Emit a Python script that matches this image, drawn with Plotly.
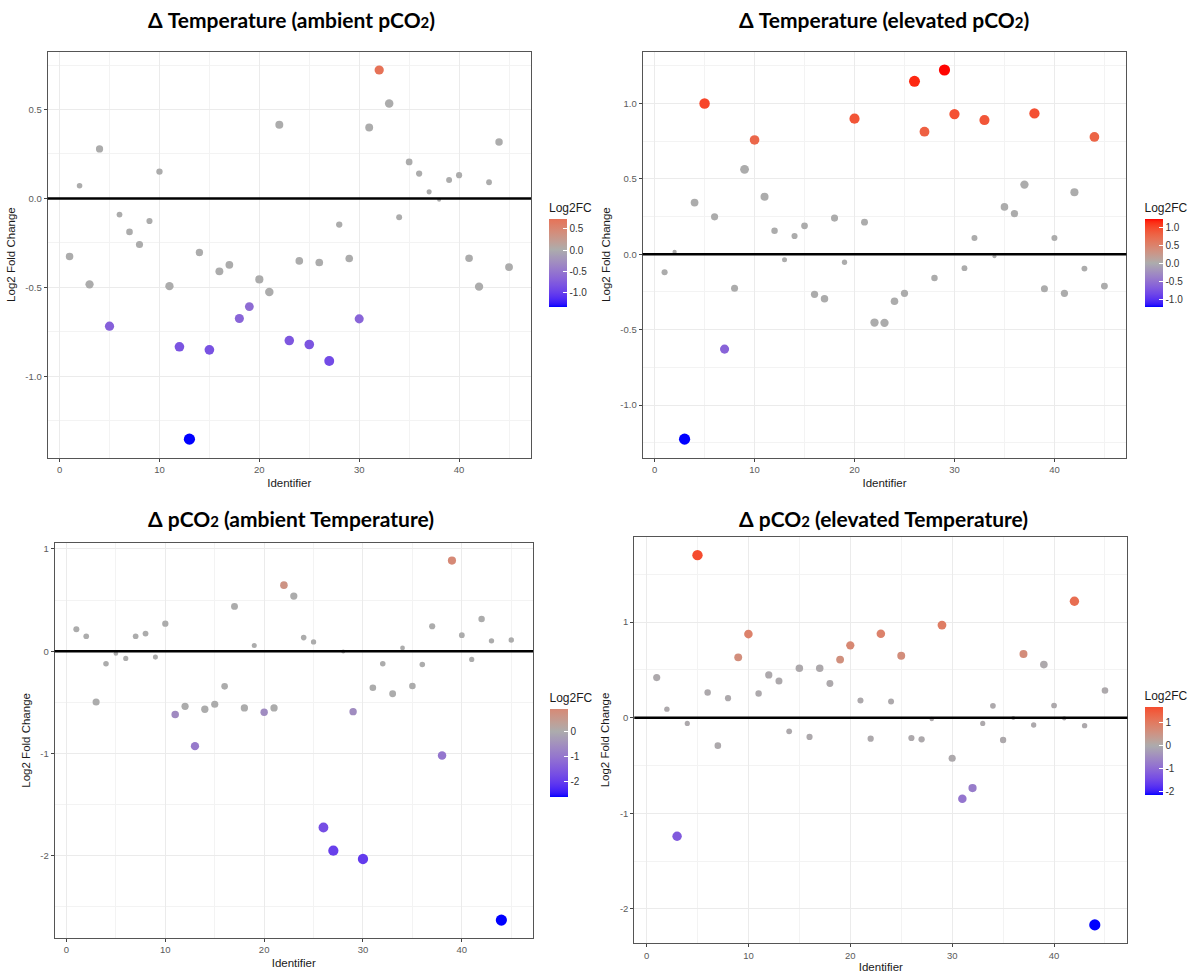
import math
import plotly.graph_objects as go

identifiers = list(range(1, 46))

# Δ Temperature (ambient pCO2)
temp_ambient_lfc = [-0.326, 0.071, -0.483, 0.278, -0.718, -0.091, -0.188, -0.259, -0.127, 0.151,
                    -0.493, -0.834, -1.353, -0.304, -0.851, -0.410, -0.373, -0.675, -0.608, -0.455,
                    -0.526, 0.414, -0.799, -0.351, -0.821, -0.360, -0.914, -0.147, -0.338, -0.677,
                    0.399, 0.722, 0.534, -0.106, 0.205, 0.140, 0.037, -0.007, 0.104, 0.131,
                    -0.336, -0.496, 0.091, 0.317, -0.386]
temp_ambient_sig = [5, 12, 13, 15, 18, 19, 23, 25, 27, 30, 32]

# Δ Temperature (elevated pCO2)
temp_elevated_lfc = [-0.119, 0.015, -1.226, 0.343, 1.000, 0.248, -0.629, -0.226, 0.563, 0.758,
                     0.382, 0.156, -0.037, 0.121, 0.189, -0.266, -0.295, 0.240, -0.053, 0.899,
                     0.213, -0.453, -0.455, -0.312, -0.259, 1.147, 0.813, -0.158, 1.222, 0.930,
                     -0.092, 0.108, 0.890, -0.013, 0.314, 0.270, 0.462, 0.934, -0.229, 0.108,
                     -0.259, 0.411, -0.095, 0.778, -0.211]
temp_elevated_sig = [3, 5, 7, 10, 20, 26, 27, 29, 30, 33, 38, 44]

# Δ pCO2 (ambient Temperature)
pco2_ambient_lfc = [0.214, 0.146, -0.497, -0.123, -0.023, -0.071, 0.146, 0.172, -0.058, 0.269,
                    -0.620, -0.539, -0.929, -0.568, -0.519, -0.344, 0.438, -0.555, 0.055, -0.597,
                    -0.555, 0.646, 0.539, 0.133, 0.091, -1.724, -1.951, -0.003, -0.591, -2.032,
                    -0.357, -0.123, -0.416, 0.032, -0.341, -0.130, 0.244, -1.019, 0.886, 0.156,
                    -0.081, 0.315, 0.101, -2.630, 0.110]
pco2_ambient_sig = [11, 13, 20, 22, 26, 27, 29, 30, 38, 39, 44]

# Δ pCO2 (elevated Temperature)
pco2_elevated_lfc = [0.420, 0.090, -1.240, -0.059, 1.701, 0.264, -0.292, 0.205, 0.632, 0.875,
                     0.253, 0.448, 0.385, -0.142, 0.517, -0.201, 0.517, 0.358, 0.608, 0.757,
                     0.181, -0.219, 0.878, 0.170, 0.649, -0.212, -0.226, -0.014, 0.969, -0.424,
                     -0.847, -0.736, -0.059, 0.125, -0.233, -0.003, 0.667, -0.076, 0.556, 0.128,
                     -0.007, 1.219, -0.083, -2.167, 0.285]
pco2_elevated_sig = [3, 5, 9, 10, 19, 20, 23, 25, 29, 31, 32, 37, 42, 44]

titles = ["Δ Temperature (ambient pCO<span style='font-size:15px'>2</span>)",
          "Δ Temperature (elevated pCO<span style='font-size:15px'>2</span>)",
          "Δ pCO<span style='font-size:15px'>2</span> (ambient Temperature)",
          "Δ pCO<span style='font-size:15px'>2</span> (elevated Temperature)"]

x_ticks = [0, 10, 20, 30, 40]
x_ticktext = ["0", "10", "20", "30", "40"]
x_minor = [5, 15, 25, 35, 45]

y_ticks = [[-1.0, -0.5, 0.0, 0.5], [-1.0, -0.5, 0.0, 0.5, 1.0], [-2, -1, 0, 1], [-2, -1, 0, 1]]
y_ticktext = [["-1.0", "-0.5", "0.0", "0.5"], ["-1.0", "-0.5", "0.0", "0.5", "1.0"],
              ["-2", "-1", "0", "1"], ["-2", "-1", "0", "1"]]
y_minor = [[-1.25, -0.75, -0.25, 0.25, 0.75], [-1.25, -0.75, -0.25, 0.25, 0.75, 1.25],
           [-2.5, -1.5, -0.5, 0.5], [-1.5, -0.5, 0.5, 1.5]]
cb_ticks = [[-1.0, -0.5, 0.0, 0.5], [-1.0, -0.5, 0.0, 0.5, 1.0], [-2, -1, 0], [-2, -1, 0, 1]]
cb_ticktext = [["-1.0", "-0.5", "0.0", "0.5"], ["-1.0", "-0.5", "0.0", "0.5", "1.0"],
               ["-2", "-1", "0"], ["-2", "-1", "0", "1"]]

series = [(temp_ambient_lfc, temp_ambient_sig), (temp_elevated_lfc, temp_elevated_sig),
          (pco2_ambient_lfc, pco2_ambient_sig), (pco2_elevated_lfc, pco2_elevated_sig)]

# ---------- layout (pixel geometry) ----------
W, H = 1198, 973
# plot areas: (left, right, top, bottom) in px
areas = [(47.6, 531, 51.7, 459), (642.6, 1126.4, 51.7, 459),
         (54.6, 533, 544.3, 941), (634.3, 1127.4, 538.3, 946.3)]
# colorbar (left x, top of title y)
cbars = [(549, 201), (1144.5, 201), (549.5, 692), (1144.5, 690)]
title_pos = [(291, 20), (884, 20), (291, 520), (883, 520)]

LOW, MID, HIGH = (0, 0, 255), (172, 172, 172), (255, 0, 0)


def _lin(c):
    c = c / 255.0
    return c / 12.92 if c <= 0.04045 else ((c + 0.055) / 1.055) ** 2.4


def _gam(c):
    c = 12.92 * c if c <= 0.0031308 else 1.055 * c ** (1 / 2.4) - 0.055
    return max(0, min(255, round(c * 255)))


def to_lab(rgb):
    r, g, b = [_lin(v) for v in rgb]
    X = (0.4124 * r + 0.3576 * g + 0.1805 * b) / 0.95047
    Y = (0.2126 * r + 0.7152 * g + 0.0722 * b)
    Z = (0.0193 * r + 0.1192 * g + 0.9505 * b) / 1.08883
    d = 6 / 29

    def f(t):
        return t ** (1 / 3) if t > d ** 3 else t / (3 * d * d) + 4 / 29
    fx, fy, fz = f(X), f(Y), f(Z)
    return (116 * fy - 16, 500 * (fx - fy), 200 * (fy - fz))


def from_lab(lab):
    L, a, b = lab
    d = 6 / 29
    fy = (L + 16) / 116
    fx = fy + a / 500
    fz = fy - b / 200

    def fi(t):
        return t ** 3 if t > d else 3 * d * d * (t - 4 / 29)
    X, Y, Z = fi(fx) * 0.95047, fi(fy), fi(fz) * 1.08883
    r = 3.2406 * X - 1.5372 * Y - 0.4986 * Z
    g = -0.9689 * X + 1.8758 * Y + 0.0415 * Z
    bb = 0.0557 * X - 0.2040 * Y + 1.0570 * Z
    return (_gam(max(0, r)), _gam(max(0, g)), _gam(max(0, bb)))


LAB_LOW, LAB_MID, LAB_HIGH = to_lab(LOW), to_lab(MID), to_lab(HIGH)


def ramp(t):
    if t <= 0.5:
        a, b, s = LAB_LOW, LAB_MID, t / 0.5
    else:
        a, b, s = LAB_MID, LAB_HIGH, (t - 0.5) / 0.5
    return from_lab(tuple(a[i] + (b[i] - a[i]) * s for i in range(3)))


fig = go.Figure()
layout = dict(width=W, height=H, margin=dict(l=0, r=0, t=0, b=0),
              paper_bgcolor="white", plot_bgcolor="white", showlegend=False,
              font=dict(family="Liberation Sans, Arial, sans-serif"))
annotations = []
shapes = []

for i, ((vals, sig), (l, r, t, b)) in enumerate(zip(series, areas)):
    n = "" if i == 0 else str(i + 1)
    col = [v if idx in sig else 0.0 for idx, v in zip(identifiers, vals)]
    cmin, cmax = min(col), max(col)
    M = max(abs(cmin), abs(cmax))
    cs = []
    steps = 40
    for k in range(steps + 1):
        s = k / steps
        v = cmin + s * (cmax - cmin)
        rgb = ramp(0.5 + v / (2 * M))
        cs.append([s, "rgb(%d,%d,%d)" % rgb])
    absv = [abs(v) for v in vals]
    amin, amax = min(absv), max(absv)
    sizes = [4 + 7.2 * math.sqrt((a - amin) / (amax - amin)) for a in absv]

    cbx, cby = cbars[i]
    fig.add_trace(go.Scatter(
        x=identifiers, y=vals, mode="markers", xaxis="x" + n, yaxis="y" + n,
        marker=dict(color=col, colorscale=cs, cmin=cmin, cmax=cmax, size=sizes,
                    line=dict(width=0), opacity=1,
                    showscale=True,
                    colorbar=dict(x=cbx / W, xanchor="left", xpad=0,
                                  y=1 - cby / H, yanchor="top", ypad=0,
                                  lenmode="pixels", len=107, thickness=18,
                                  outlinewidth=0,
                                  title=dict(text="Log2FC", side="top",
                                             font=dict(size=12, color="#1a1a1a")),
                                  tickvals=cb_ticks[i], ticktext=cb_ticktext[i],
                                  ticks="inside", ticklen=4, tickcolor="white",
                                  tickfont=dict(size=10, color="#333333"))),
        hoverinfo="x+y"))

    xr = (min(identifiers), max(identifiers))
    xe = (xr[1] - xr[0]) * 0.05
    yr = (min(vals), max(vals))
    ye = (yr[1] - yr[0]) * 0.05

    axis_common = dict(showline=True, mirror=True, linecolor="#555555", linewidth=1,
                       ticks="outside", ticklen=3, tickcolor="#444444", tickwidth=1,
                       tickfont=dict(size=9.5, color="#5a5a5a"),
                       showgrid=True, gridcolor="#EBEBEB", gridwidth=1, zeroline=False)
    layout["xaxis" + n] = dict(axis_common, domain=[l / W, r / W], anchor="y" + n,
                               range=[xr[0] - xe, xr[1] + xe],
                               tickmode="array", tickvals=x_ticks, ticktext=x_ticktext,
                               minor=dict(tickmode="array", tickvals=x_minor, showgrid=True,
                                          gridcolor="#F3F3F3", gridwidth=0.6, ticks=""),
                               title=dict(text="Identifier", standoff=4,
                                          font=dict(size=11.5, color="#1a1a1a")))
    layout["yaxis" + n] = dict(axis_common, domain=[1 - b / H, 1 - t / H], anchor="x" + n,
                               range=[yr[0] - ye, yr[1] + ye],
                               tickmode="array", tickvals=y_ticks[i], ticktext=y_ticktext[i],
                               minor=dict(tickmode="array", tickvals=y_minor[i], showgrid=True,
                                          gridcolor="#F3F3F3", gridwidth=0.6, ticks=""),
                               title=dict(text="Log2 Fold Change", standoff=7,
                                          font=dict(size=11.5, color="#1a1a1a")))
    shapes.append(dict(type="line", xref="x" + n + " domain", yref="y" + n,
                       x0=0, x1=1, y0=0, y1=0, layer="above",
                       line=dict(color="black", width=2.6)))
    tx, ty = title_pos[i]
    annotations.append(dict(text="<b>" + titles[i] + "</b>", xref="paper", yref="paper",
                            x=tx / W, y=1 - ty / H, xanchor="center", yanchor="middle",
                            showarrow=False,
                            font=dict(family="Lato, Open Sans, sans-serif", size=21,
                                      color="black")))

layout["annotations"] = annotations
layout["shapes"] = shapes
fig.update_layout(**layout)
fig.write_html("out.html")
